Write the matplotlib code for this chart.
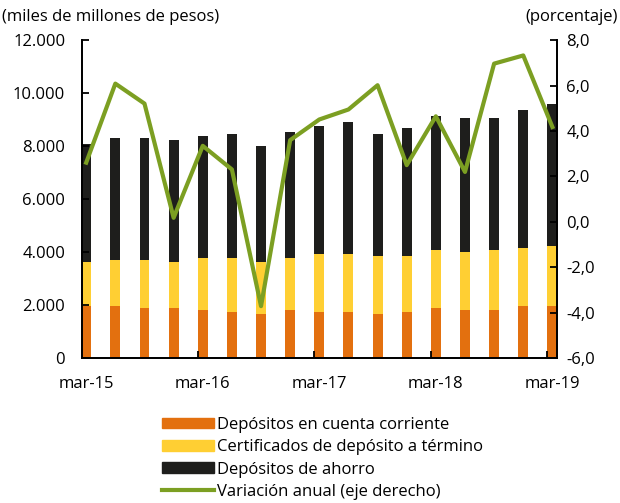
import numpy as np
from matplotlib import pyplot as plt
from matplotlib.lines import Line2D
from matplotlib.patches import Patch

plt.rcParams['font.family'] = ['Open Sans', 'DejaVu Sans']

# ===== Datos =====

trimestres = ['mar-15', 'jun-15', 'sep-15', 'dic-15', 'mar-16', 'jun-16', 'sep-16', 'dic-16',
              'mar-17', 'jun-17', 'sep-17', 'dic-17', 'mar-18', 'jun-18', 'sep-18', 'dic-18', 'mar-19']

cuenta_corriente = [1960, 1960, 1900, 1900, 1820, 1750, 1670, 1820,
                    1750, 1750, 1670, 1750, 1900, 1820, 1820, 1970, 1970]
cdt_total = [3630, 3710, 3710, 3630, 3790, 3790, 3630, 3790,
             3940, 3940, 3860, 3860, 4090, 4010, 4090, 4160, 4240]
total = [8080, 8300, 8300, 8230, 8380, 8450, 8000, 8530,
         8750, 8910, 8450, 8680, 9130, 9060, 9060, 9360, 9580]
variacion = [2.61, 6.09, 5.21, 0.18, 3.35, 2.31, -3.71, 3.60,
             4.51, 4.95, 6.02, 2.50, 4.65, 2.20, 6.97, 7.33, 4.18]

cdt = np.array(cdt_total) - np.array(cuenta_corriente)
ahorro = np.array(total) - np.array(cdt_total)

c_naranja = '#E3700F'
c_amarillo = '#FFCF33'
c_negro = '#1E1E1C'
c_verde = '#7C9F22'
fs = 12

# ===== Grafica =====

fig = plt.figure(figsize=(6.2, 5.03), dpi=100)
ax = fig.add_axes([0.132, 0.288, 0.766, 0.632])
x = np.arange(len(trimestres))
ancho = 0.34

ax.bar(x, cuenta_corriente, ancho, color=c_naranja)
ax.bar(x, cdt, ancho, bottom=cuenta_corriente, color=c_amarillo)
ax.bar(x, ahorro, ancho, bottom=cdt_total, color=c_negro)

ax.set_ylim(0, 12000)
ax.set_xlim(-0.15, 16.15)
ax.set_yticks(np.arange(0, 12001, 2000))
ax.set_yticklabels([f'{v:,}'.replace(',', '.') for v in range(0, 12001, 2000)])

ax.set_xticks(x[::4])
ax.set_xticklabels(trimestres[::4])
ax.tick_params(axis='x', length=0, pad=13, labelsize=fs)
ax.set_xticks(x[4::4] - 0.18, minor=True)
ax.tick_params(axis='x', which='minor', direction='in', length=5, width=1.3)
ax.tick_params(axis='y', direction='in', length=5, width=1.3, labelsize=fs, pad=12)

ax2 = ax.twinx()
ax2.plot(x, variacion, color=c_verde, lw=3)
ax2.set_ylim(-6, 8)
ax2.set_yticks(np.arange(-6, 8.1, 2))
ax2.set_yticklabels([f'{v:.1f}'.replace('.', ',') for v in np.arange(-6, 8.1, 2)])
ax2.tick_params(axis='y', direction='in', length=5, width=1.3, labelsize=fs, pad=7)

for a in (ax, ax2):
    a.spines['top'].set_visible(False)
    for s in ('left', 'right', 'bottom'):
        a.spines[s].set_linewidth(1.3)

fig.text(0.003, 0.967, '(miles de millones de pesos)', fontsize=fs, va='center', ha='left')
fig.text(0.997, 0.967, '(porcentaje)', fontsize=fs, va='center', ha='right')

handles = [Patch(color=c_naranja), Patch(color=c_amarillo), Patch(color=c_negro),
           Line2D([], [], color=c_verde, lw=3)]
etiquetas = ['Depósitos en cuenta corriente', 'Certificados de depósito a término',
             'Depósitos de ahorro', 'Variación anual (eje derecho)']
fig.legend(handles, etiquetas, loc='lower left', bbox_to_anchor=(0.243, -0.017),
           frameon=False, fontsize=fs, handlelength=3.1, handleheight=0.6,
           handletextpad=0.2, labelspacing=0.38, borderaxespad=0.3)

fig.savefig('out.png', dpi=100)
